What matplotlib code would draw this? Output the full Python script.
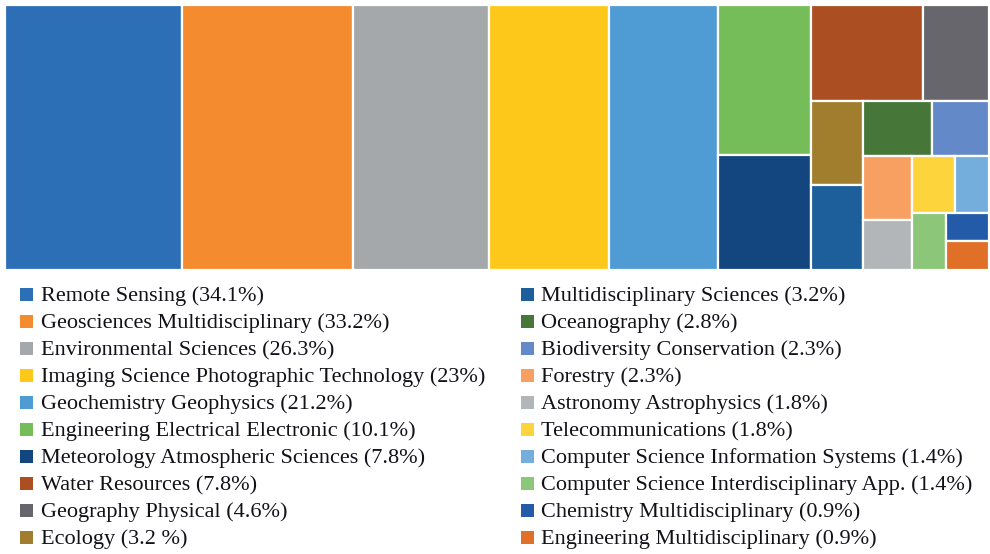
import matplotlib
matplotlib.use("Agg")
import matplotlib.pyplot as plt
from matplotlib.patches import Rectangle

categories = [
    "Remote Sensing", "Geosciences Multidisciplinary", "Environmental Sciences",
    "Imaging Science Photographic Technology", "Geochemistry Geophysics",
    "Engineering Electrical Electronic", "Meteorology Atmospheric Sciences",
    "Water Resources", "Geography Physical", "Ecology",
    "Multidisciplinary Sciences", "Oceanography", "Biodiversity Conservation",
    "Forestry", "Astronomy Astrophysics", "Telecommunications",
    "Computer Science Information Systems", "Computer Science Interdisciplinary App.",
    "Chemistry Multidisciplinary", "Engineering Multidisciplinary",
]
values = [34.1, 33.2, 26.3, 23, 21.2, 10.1, 7.8, 7.8, 4.6, 3.2,
          3.2, 2.8, 2.3, 2.3, 1.8, 1.8, 1.4, 1.4, 0.9, 0.9]
value_labels = ["34.1%", "33.2%", "26.3%", "23%", "21.2%", "10.1%", "7.8%", "7.8%",
                "4.6%", "3.2 %", "3.2%", "2.8%", "2.3%", "2.3%", "1.8%", "1.8%",
                "1.4%", "1.4%", "0.9%", "0.9%"]
colors = ["#2D6FB7", "#F58B2F", "#A5A8AB", "#FEC81B", "#4F9BD4", "#75BD58",
          "#13457E", "#AB4E22", "#66666C", "#A17E2D", "#1C5F9A", "#467638",
          "#6389C8", "#F7A062", "#B3B6B8", "#FDD43C", "#73AEDD", "#8CC678",
          "#235BA8", "#E06F27"]
# number of items per strip of the treemap layout
strips = [1, 1, 1, 1, 1, 2, 2, 2, 2, 2, 2, 1, 1, 1]

W_PX, H_PX = 990, 554
fig = plt.figure(figsize=(W_PX / 100, H_PX / 100), dpi=100)
plt.rcParams['font.family'] = ['Liberation Serif', 'DejaVu Serif']

# treemap axes
left, top, right, bottom = 5, 5, 989, 270
ax = fig.add_axes([left / W_PX, 1 - bottom / H_PX, (right - left) / W_PX, (bottom - top) / H_PX])
W = (right - left) / (bottom - top)
H = 1.0
ax.set_xlim(0, W)
ax.set_ylim(H, 0)
ax.axis("off")


def squarify_strips(vals, strips, x, y, w, h):
    rects = []
    remaining = sum(vals)
    i = 0
    for n in strips:
        grp = vals[i:i + n]
        s = sum(grp)
        if w >= h:
            cw = w * s / remaining
            yy = y
            for v in grp:
                hh = h * v / s
                rects.append((x, yy, cw, hh))
                yy += hh
            x += cw
            w -= cw
        else:
            rh = h * s / remaining
            xx = x
            for v in grp:
                ww = w * v / s
                rects.append((xx, y, ww, rh))
                xx += ww
            y += rh
            h -= rh
        remaining -= s
        i += n
    return rects


rects = squarify_strips(values, strips, 0, 0, W, H)
for (rx, ry, rw, rh), c in zip(rects, colors):
    ax.add_patch(Rectangle((rx, ry), rw, rh, facecolor=c, edgecolor="white",
                           linewidth=1.6))

# legend
fs = 16
row_h = 27
y0 = 294
for k, (cat, lab, c) in enumerate(zip(categories, value_labels, colors)):
    col = k // 10
    row = k % 10
    mx = 20 if col == 0 else 521
    tx = 41 if col == 0 else 541
    yc = y0 + row * row_h
    fig.patches.append(Rectangle((mx / W_PX, 1 - (yc + 6.5) / H_PX), 13 / W_PX, 13 / H_PX,
                                 transform=fig.transFigure, facecolor=c, edgecolor="none"))
    fig.text(tx / W_PX, 1 - yc / H_PX, f"{cat} ({lab})", fontsize=fs,
             va="center_baseline", ha="left", color="#111118")

fig.savefig("out.png", dpi=100, facecolor="white")
